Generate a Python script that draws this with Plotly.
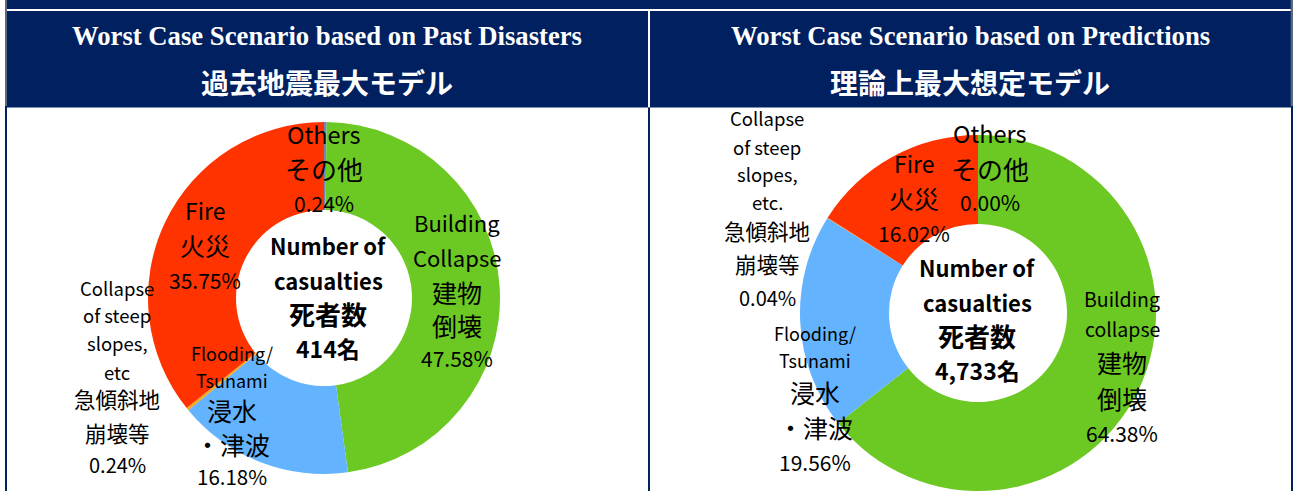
import plotly.graph_objects as go

# ---------------- data ----------------
categories_en = ["Others", "Building Collapse", "Flooding/Tsunami",
                 "Collapse of steep slopes, etc", "Fire"]
categories_ja = ["その他", "建物倒壊", "浸水・津波", "急傾斜地崩壊等", "火災"]
past_share = [0.24, 47.58, 16.18, 0.24, 35.75]
pred_share = [0.00, 64.38, 19.56, 0.04, 16.02]
past_total = 414
pred_total = 4733
slice_colors = ["#6F86BC", "#6CC823", "#63B3FF", "#F2A623", "#FF3300"]

titles_en = ["Worst Case Scenario based on Past Disasters",
             "Worst Case Scenario based on Predictions"]
titles_ja = ["過去地震最大モデル", "理論上最大想定モデル"]

# label line texts (percent lines are generated from the values)
past_label_lines = [
    ["Others", "その他"],
    ["Building", "Collapse", "建物", "倒壊"],
    ["Flooding/", "Tsunami", "浸水", "・津波"],
    ["Collapse", "of steep", "slopes,", "etc", "急傾斜地", "崩壊等"],
    ["Fire", "火災"],
]
pred_label_lines = [
    ["Others", "その他"],
    ["Building", "collapse", "建物", "倒壊"],
    ["Flooding/", "Tsunami", "浸水", "・津波"],
    ["Collapse", "of steep", "slopes,", "etc.", "急傾斜地", "崩壊等"],
    ["Fire", "火災"],
]
center_lines = ["Number of", "casualties", "死者数"]

# ---------------- layout helpers ----------------
W, H = 1293, 491
NAVY = "#002060"
GRAY = "#5E6A7C"
FONT = "Noto Sans CJK JP"


def px(x):
    return x / W


def py(y):
    return 1 - y / H


fig = go.Figure()

# donuts: (center x, center y, radius) in pixels
donuts = [(324, 298, 176), (978, 313, 178)]
for (cx, cy, r), vals in zip(donuts, [past_share, pred_share]):
    fig.add_trace(go.Pie(
        labels=categories_en, values=vals, hole=0.5, sort=False,
        direction="clockwise", rotation=0,
        marker=dict(colors=slice_colors, line=dict(width=0)),
        textinfo="none", hoverinfo="label+percent", showlegend=False,
        domain=dict(x=[px(cx - r), px(cx + r)], y=[py(cy + r), py(cy - r)]),
    ))

shapes = []


def rect(x0, y0, x1, y1, color):
    shapes.append(dict(type="rect", xref="paper", yref="paper",
                       x0=px(x0), x1=px(x1), y0=py(y1), y1=py(y0),
                       fillcolor=color, line=dict(width=0), layer="above"))


rect(7, 0, 1291, 107.5, NAVY)
rect(7, 9, 1291, 11, "white")
rect(648, 11, 650, 107.5, "white")
rect(5, 0, 7, 106, GRAY)
rect(1290.7, 0, 1293, 106, GRAY)
rect(5, 106, 7, 491, NAVY)
rect(648, 107.5, 650, 491, NAVY)
rect(1291, 106, 1293, 491, NAVY)

annotations = []


def text(x, y, s, size, color="black", family=FONT, bold=False):
    annotations.append(dict(
        x=px(x), y=py(y), xref="paper", yref="paper", text=("<b>%s</b>" % s) if bold else s,
        showarrow=False, xanchor="center", yanchor="middle",
        font=dict(family=family, size=size, color=color)))


# headers
for cx, ten, tja in zip([327.5, 970], titles_en, titles_ja):
    text(cx, 36, ten, 26.7, "white", "Liberation Serif", bold=True)
    text(cx, 82, tja, 28, "white", FONT, bold=True)

# label placement specs per donut: (x, ys, sizes)
past_specs = [
    (324, [134, 168, 203], [23.5, 26, 21]),
    (457, [222, 257, 292, 325, 358], [22, 22, 25, 25, 21]),
    (232, [353, 380, 410, 444, 476], [18, 18, 25, 25, 20.5]),
    (117, [288, 315, 343, 372, 398, 432, 464], [18.5, 18.5, 18.5, 18.5, 21.5, 21.5, 20]),
    (205, [210, 245, 280], [23, 25, 21]),
]
pred_specs = [
    (990, [133, 168, 202], [23.5, 26, 21]),
    (1122, [298, 328, 362, 398, 433], [19.5, 19.5, 25, 25, 21]),
    (815, [333, 360, 392, 427, 462], [18, 18, 25, 25, 21]),
    (767, [118, 147, 174, 202, 230, 263, 297], [18.5, 18.5, 18.5, 18.5, 21.5, 21.5, 20]),
    (914, [163, 198, 233], [23, 25, 21]),
]

for vals, lines_all, specs in [(past_share, past_label_lines, past_specs),
                               (pred_share, pred_label_lines, pred_specs)]:
    for v, lines, (x, ys, sizes) in zip(vals, lines_all, specs):
        all_lines = lines + ["%.2f%%" % v]
        for s, y, sz in zip(all_lines, ys, sizes):
            text(x, y, s, sz)

# center texts
center_sizes = [22, 22, 26, 23]
for cx, ys, total in [(328, [245, 280, 313, 348], past_total),
                      (977, [267, 302, 335, 370], pred_total)]:
    for s, y, sz in zip(center_lines + ["{:,}名".format(total)], ys, center_sizes):
        text(cx, y, s, sz, bold=True)

fig.update_layout(
    width=W, height=H, margin=dict(l=0, r=0, t=0, b=0),
    paper_bgcolor="white", plot_bgcolor="white",
    shapes=shapes, annotations=annotations,
)

fig.write_html("out.html", config={"displayModeBar": False},
               post_script="document.body.style.margin='0';document.body.style.overflow='hidden';")
